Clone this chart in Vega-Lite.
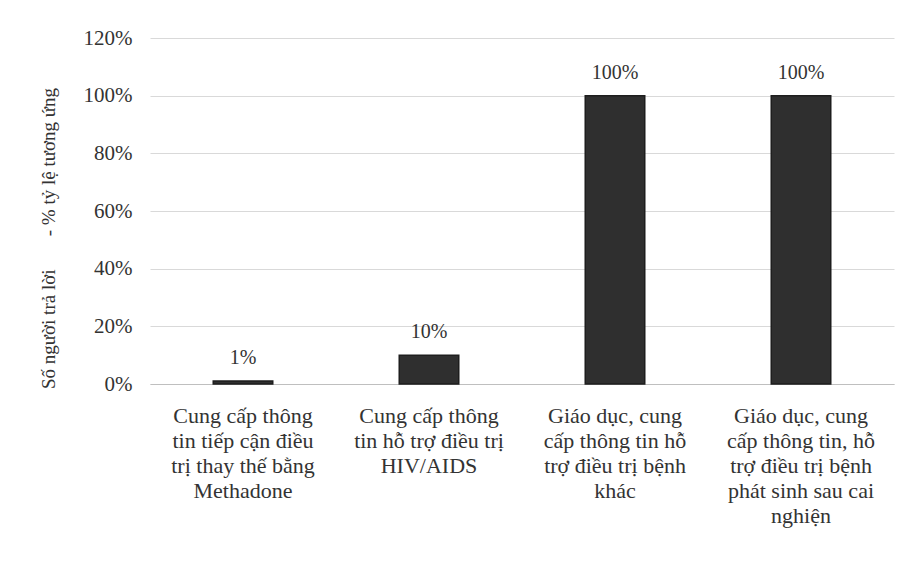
{
  "$schema": "https://vega.github.io/schema/vega-lite/v6.json",
  "width": 744,
  "height": 346,
  "autosize": {"type": "none"},
  "padding": {"left": 150, "top": 38, "right": 18, "bottom": 177},
  "background": "white",
  "config": {
    "view": {"stroke": null},
    "font": "Liberation Serif"
  },
  "data": {
    "values": [
      {"category": "Cung cấp thông|tin tiếp cận điều|trị thay thế bằng|Methadone", "value": 0.01, "label": "1%"},
      {"category": "Cung cấp thông|tin hỗ trợ điều trị|HIV/AIDS", "value": 0.10, "label": "10%"},
      {"category": "Giáo dục, cung|cấp thông tin hỗ|trợ điều trị bệnh|khác", "value": 1.0, "label": "100%"},
      {"category": "Giáo dục, cung|cấp thông tin, hỗ|trợ điều trị bệnh|phát sinh sau cai|nghiện", "value": 1.0, "label": "100%"}
    ]
  },
  "encoding": {
    "x": {
      "field": "category",
      "type": "nominal",
      "sort": null,
      "scale": {"paddingInner": 0.68, "paddingOuter": 0.34},
      "axis": {
        "title": null,
        "labelAngle": 0,
        "labelExpr": "split(datum.label, '|')",
        "labelFont": "Liberation Serif",
        "labelFontSize": 22,
        "labelLineHeight": 25,
        "labelColor": "#333333",
        "labelBaseline": "top",
        "labelPadding": 21,
        "labelLimit": 300,
        "ticks": false,
        "domainColor": "#bfbfbf",
        "domainWidth": 1
      }
    },
    "y": {
      "field": "value",
      "type": "quantitative",
      "scale": {"domain": [0, 1.2], "nice": false},
      "axis": {
        "format": ".0%",
        "values": [0, 0.2, 0.4, 0.6, 0.8, 1.0, 1.2],
        "title": "Số người trả lời \u00a0\u00a0\u00a0\u00a0\u00a0\u00a0- % tỷ lệ tương ứng",
        "titleFont": "Liberation Serif",
        "titleFontSize": 19,
        "titleFontWeight": "normal",
        "titleColor": "#333333",
        "titleX": -102,
        "titleY": 200,
        "titleAngle": -90,
        "titleAlign": "center",
        "titleBaseline": "middle",
        "labelFont": "Liberation Serif",
        "labelFontSize": 21,
        "labelColor": "#333333",
        "labelPadding": 18,
        "ticks": false,
        "domain": false,
        "gridColor": "#d9d9d9",
        "gridWidth": 1
      }
    }
  },
  "layer": [
    {
      "mark": {"type": "bar", "color": "#2f2f2f", "stroke": "#1e1e1e", "strokeWidth": 1.5}
    },
    {
      "mark": {"type": "text", "baseline": "alphabetic", "dy": -17, "font": "Liberation Serif", "fontSize": 20, "color": "#333333"},
      "encoding": {"text": {"field": "label"}}
    }
  ]
}
